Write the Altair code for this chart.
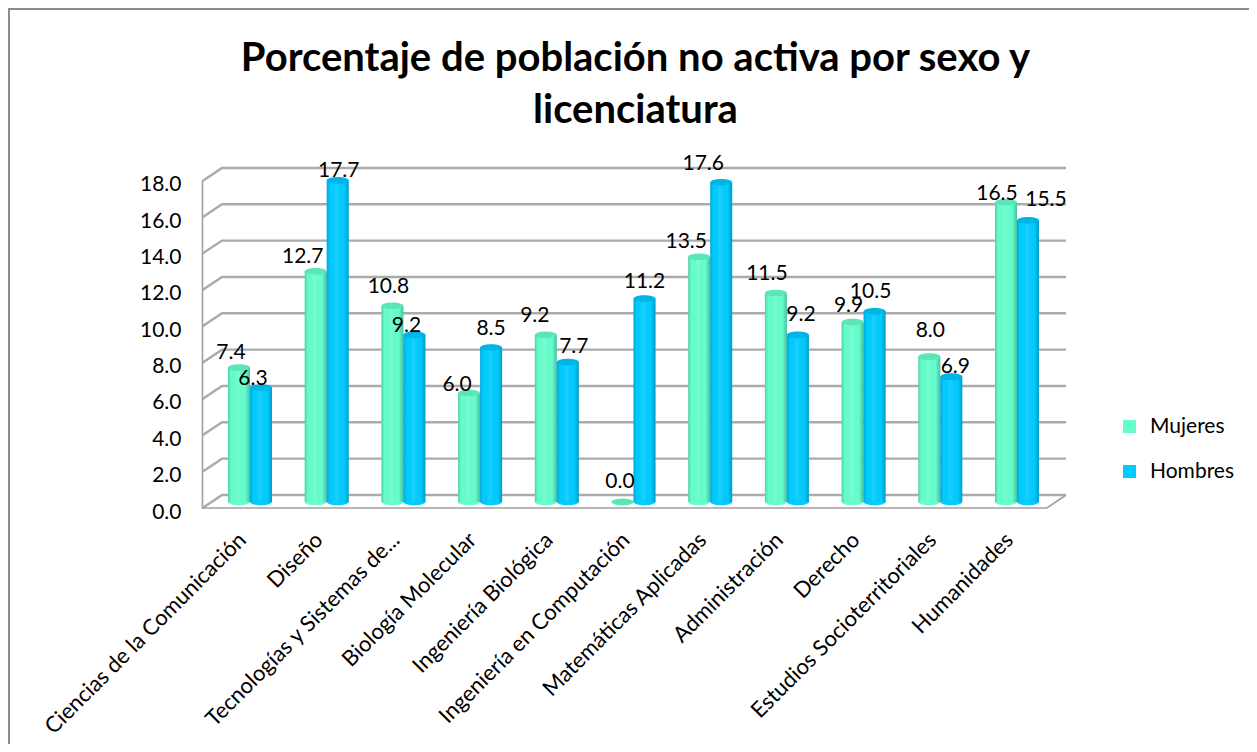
import json
import altair as alt
import pandas as pd

categories = ["Ciencias de la Comunicación", "Diseño", "Tecnologías y Sistemas de...",
              "Biología Molecular", "Ingeniería Biológica", "Ingeniería en Computación",
              "Matemáticas Aplicadas", "Administración", "Derecho",
              "Estudios Socioterritoriales", "Humanidades"]
mujeres = [7.4, 12.7, 10.8, 6.0, 9.2, 0.0, 13.5, 11.5, 9.9, 8.0, 16.5]
hombres = [6.3, 17.7, 9.2, 8.5, 7.7, 11.2, 17.6, 9.2, 10.5, 6.9, 15.5]
series = ["Mujeres", "Hombres"]
colors = ["#66FFCC", "#00CCFF"]
y_ticks = [0, 2, 4, 6, 8, 10, 12, 14, 16, 18]

# layout: label nudges in pixels (the original labels were placed by hand)
m_dx = [-8, -13, -4, -12, -11, -2.5, -13, -9, -4, 1, -9]
m_dy = [-14.5, -14, -19, -8, -19, -20, -15, -19, -16, -26, -8]
h_dx = [-8, 1, -8, 0, 6, 0, -18, 3, -4, 4, 18]
h_dy = [-8.5, -9, -9, -19, -15, -16, -18, -20, -19, -10, -20]

W, H = 1241, 736
PX_X, PX_Y = 76.7, 18.17
X0, Y0 = 250, 508            # page pixel of category 0 and of value 0, front plane
x_domain = [(8 - X0) / PX_X, (8 + W - X0) / PX_X]
y_domain = [(Y0 - (8 + H)) / PX_Y, (Y0 - 8) / PX_Y]
font = "Lato"

bar_w = 22 / PX_X
bar_depth = 6 / PX_Y         # bars stand midway between front and back planes
back_depth = 13 / PX_Y
x_front_l, x_back_l = (202.5 - X0) / PX_X, (222 - X0) / PX_X
x_front_r, x_back_r = (1047 - X0) / PX_X, (1066 - X0) / PX_X

rows, labels = [], []
for s, vals, dxs, dys, side in [(series[0], mujeres, m_dx, m_dy, -1), (series[1], hombres, h_dx, h_dy, 1)]:
    for i, v in enumerate(vals):
        lo, hi = (i - bar_w, i) if side < 0 else (i, i + bar_w)
        rows.append(dict(series=s, a=lo, b=hi, mid=(lo + hi) / 2, base=bar_depth, top=v + bar_depth))
        labels.append(dict(x=(lo + hi) / 2 + dxs[i] / PX_X,
                           y=v + bar_depth - dys[i] / PX_Y,
                           t=f"{v:.1f}"))
bars = pd.DataFrame(rows)
label_df = pd.DataFrame(labels)

grid, front = [], []
for t in y_ticks:
    for k, (x, y) in enumerate([(x_front_l, t), (x_back_l, t + back_depth), (x_back_r, t + back_depth)]):
        grid.append(dict(id=f"g{t}", k=k, x=x, y=y))
for k, (x, y) in enumerate([(x_front_l, y_ticks[-1]), (x_front_l, 0), (x_front_r, 0), (x_back_r, back_depth)]):
    front.append(dict(id="f", k=k, x=x, y=y))
border = [dict(id="b", k=0, x=x_domain[0] + 1 / PX_X, y=y_domain[0]),
          dict(id="b", k=1, x=x_domain[0] + 1 / PX_X, y=y_domain[1] - 1 / PX_Y),
          dict(id="b", k=2, x=x_domain[1], y=y_domain[1] - 1 / PX_Y)]

x_scale = alt.Scale(domain=x_domain, nice=False, zero=False)
y_scale = alt.Scale(domain=y_domain, nice=False, zero=False)
label_expr = json.dumps(categories, ensure_ascii=False) + "[datum.value]"

x_axis = alt.Axis(values=list(range(len(categories))), labelExpr=label_expr, title=None, domain=False,
                  ticks=False, grid=False, orient="bottom", offset=-(8 + H - 524), labelAngle=-45,
                  labelAlign="right", labelBaseline="middle", labelFont=font, labelFontSize=22,
                  labelColor="#000000", labelLimit=500, labelOverlap=False, labelBound=False,
                  labelFlush=False, labelPadding=12, labelOffset=-8)
y_axis = alt.Axis(values=y_ticks, format=".1f", title=None, domain=False, ticks=False, grid=False,
                  orient="left", offset=-179, labelPadding=6, labelOffset=4, labelFont=font,
                  labelFontSize=21, labelColor="#000000", labelOverlap=False, labelBound=False,
                  labelFlush=False)


def X(field):
    return alt.X(field, scale=x_scale, axis=x_axis)


def Y(field):
    return alt.Y(field, scale=y_scale, axis=y_axis)


def polyline(rows_, color, width):
    return alt.Chart(pd.DataFrame(rows_)).mark_line(color=color, strokeWidth=width).encode(
        x=X("x:Q"), y=Y("y:Q"), detail="id:N", order="k:Q")


color_enc = alt.Color("series:N", scale=alt.Scale(domain=series, range=colors),
                      legend=alt.Legend(title=None, orient="none", legendX=1111, legendY=408,
                                        symbolType="square", symbolSize=169, symbolStrokeWidth=0,
                                        labelFont=font, labelFontSize=21, labelColor="#000000",
                                        labelOffset=10, rowPadding=23))
ELLIPSE = "M-1,0A1,0.3,0,1,1,1,0A1,0.3,0,1,1,-1,0Z"
shade = {"gradient": "linear", "x1": 0, "x2": 1, "y1": 0, "y2": 0, "stops": [
    {"offset": 0, "color": "rgba(0,60,80,0.24)"},
    {"offset": 0.15, "color": "rgba(0,60,80,0.0)"},
    {"offset": 0.45, "color": "rgba(255,255,255,0.10)"},
    {"offset": 0.78, "color": "rgba(0,60,80,0.0)"},
    {"offset": 1, "color": "rgba(0,60,80,0.32)"}]}

base_chart = alt.Chart(bars)
bottom_cap = base_chart.mark_point(shape=ELLIPSE, filled=True, opacity=1, size=484, strokeWidth=0).encode(
    x=X("mid:Q"), y=Y("base:Q"),
    color=alt.Color("series:N", scale=alt.Scale(domain=series, range=colors), legend=None))
body = base_chart.mark_bar(binSpacing=0).encode(
    x=X("a:Q"), x2="b:Q", y=Y("base:Q"), y2="top:Q", color=color_enc)
gloss = base_chart.transform_filter("datum.top > datum.base + 0.01").mark_bar(color=shade).encode(
    x=X("a:Q"), x2="b:Q", y=Y("base:Q"), y2="top:Q")
top_cap = base_chart.mark_point(shape=ELLIPSE, filled=True, opacity=1, size=484, strokeWidth=0).encode(
    x=X("mid:Q"), y=Y("top:Q"),
    color=alt.Color("series:N", scale=alt.Scale(domain=series, range=["#5CE6B8", "#00B4E6"]), legend=None))
text = alt.Chart(label_df).mark_text(font=font, fontSize=21, color="#000000", baseline="middle").encode(
    x=X("x:Q"), y=Y("y:Q"), text="t:N")

chart = alt.layer(
    polyline(grid, "#ABABAB", 2.4),
    polyline(front, "#A0A0A0", 1.6),
    polyline(border, "#8C8C8C", 2),
    bottom_cap, body, gloss, top_cap, text,
).resolve_scale(color="independent").properties(
    width=W, height=H, padding=0, autosize=alt.AutoSizeParams(type="none"),
    title=alt.TitleParams(text=["Porcentaje de población no activa por sexo y", "licenciatura"],
                          anchor="middle", frame="group", orient="top", baseline="top", offset=-126,
                          dx=7, font=font, fontSize=40, fontWeight="bold", color="#000000", lineHeight=52),
).configure_view(stroke=None)

chart.save("out.html", embed_options={"renderer": "svg", "actions": False})
